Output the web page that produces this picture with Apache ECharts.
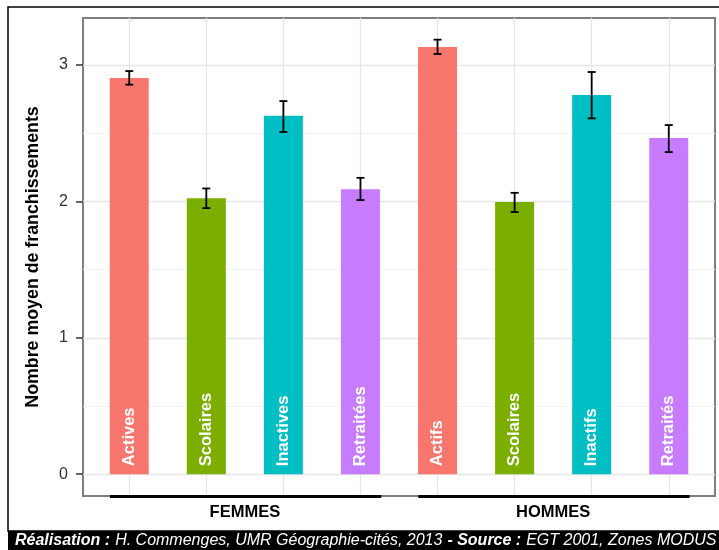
<!DOCTYPE html>
<html>
<head>
<meta charset="utf-8">
<script src="https://cdn.jsdelivr.net/npm/echarts@6/dist/echarts.min.js"></script>
<style>html,body{margin:0;padding:0;background:#fff}#c{width:719px;height:550px}</style>
</head>
<body>
<div id="c"></div>
<script>
// ---- data ----
const categories = ['Actives', 'Scolaires', 'Inactives', 'Retraitées', 'Actifs', 'Scolaires', 'Inactifs', 'Retraités'];
const groups = ['FEMMES', 'HOMMES'];
const groupCenters = [2.5, 6.5];
const groupSpans = [[0.75, 4.27], [4.75, 8.27]];
const means = [2.905, 2.024, 2.628, 2.090, 3.132, 1.995, 2.780, 2.465];
const lower = [2.856, 1.951, 2.509, 2.010, 3.081, 1.922, 2.609, 2.362];
const upper = [2.956, 2.095, 2.736, 2.173, 3.186, 2.063, 2.949, 2.560];
const yTicks = [0, 1, 2, 3];
const yMinor = [0.5, 1.5, 2.5];
const palette = ['#F8766D', '#7CAE00', '#00BFC4', '#C77CFF'];

const FONT = 'Liberation Sans, Arial, sans-serif';
const positions = categories.map((c, i) => i + 1);

const gridLines = [];
yTicks.forEach(v => gridLines.push({ yAxis: v, lineStyle: { color: '#e6e6e6', width: 1.3, type: 'solid' } }));
yMinor.forEach(v => gridLines.push({ yAxis: v, lineStyle: { color: '#f3f3f3', width: 1, type: 'solid' } }));
positions.forEach(v => gridLines.push({ xAxis: v, lineStyle: { color: '#e6e6e6', width: 1.3, type: 'solid' } }));

const groupLines = groupSpans.map(s => [
  { coord: [s[0], -0.16] },
  { coord: [s[1], -0.16] }
]);

const chart = echarts.init(document.getElementById('c'), null, { renderer: 'canvas' });
chart.setOption({
  animation: false,
  backgroundColor: '#fff',
  textStyle: { fontFamily: FONT },
  graphic: [
    { type: 'rect', shape: { x: 8, y: 7, width: 720, height: 524 }, style: { fill: null, stroke: '#000', lineWidth: 1.5 }, z: 0, silent: true },
    { type: 'rect', shape: { x: 8, y: 531, width: 711, height: 19 }, style: { fill: '#000' }, z: 0, silent: true }
  ],
  title: {
    left: 15, top: 530, padding: 0,
    text: '{b|Réalisation :} {i|H. Commenges, UMR Géographie-cités, 2013} {b|- Source :} {i|EGT 2001, Zones MODUS}',
    textStyle: {
      rich: {
        b: { fontFamily: FONT, fontStyle: 'italic', fontWeight: 'bold', fontSize: 16, color: '#fff', lineHeight: 21 },
        i: { fontFamily: FONT, fontStyle: 'italic', fontWeight: 'normal', fontSize: 16, color: '#fff', lineHeight: 21 }
      }
    }
  },
  grid: {
    left: 83, top: 18, right: 4, bottom: 54,
    show: true, borderColor: '#7f7f7f', borderWidth: 2, backgroundColor: 'transparent'
  },
  xAxis: {
    type: 'value', min: 0.4, max: 8.6,
    axisLine: { show: false }, axisTick: { show: false }, splitLine: { show: false },
    axisLabel: {
      customValues: groupCenters,
      formatter: v => groups[groupCenters.indexOf(v)] || '',
      fontFamily: FONT, fontWeight: 'bold', fontSize: 16.5, color: '#000', margin: 8
    }
  },
  yAxis: {
    type: 'value', min: -0.16, max: 3.345,
    name: 'Nombre moyen de franchissements',
    nameLocation: 'middle', nameRotate: 90, nameGap: 41,
    nameTextStyle: { fontFamily: FONT, fontWeight: 'bold', fontSize: 17.8, color: '#000', padding: [0, 0, 0, 0] },
    axisLine: { show: false },
    splitLine: { show: false },
    axisTick: { show: true, customValues: yTicks, length: 7, lineStyle: { color: '#333', width: 1.5 } },
    axisLabel: { customValues: yTicks, fontFamily: FONT, fontSize: 16, color: '#333', margin: 15 }
  },
  series: [
    {
      type: 'line', data: [], z: 1, clip: false, silent: true,
      markLine: {
        z: 1, silent: true, symbol: ['none', 'none'], label: { show: false },
        data: gridLines
      }
    },
    {
      type: 'bar', z: 2, barWidth: 39,
      data: means.map((v, i) => ({ value: [positions[i], v], itemStyle: { color: palette[i % 4] } })),
      label: {
        show: true, position: 'insideBottom', rotate: 90, align: 'left', verticalAlign: 'middle',
        distance: 8, color: '#fff', fontFamily: FONT, fontWeight: 'bold', fontSize: 16.5,
        formatter: p => categories[p.dataIndex]
      }
    },
    {
      type: 'custom', z: 3,
      data: means.map((v, i) => [positions[i], lower[i], upper[i]]),
      renderItem: (params, api) => {
        const lo = api.coord([api.value(0), api.value(1)]);
        const hi = api.coord([api.value(0), api.value(2)]);
        const hw = 4;
        const st = { stroke: '#000', lineWidth: 1.8 };
        return {
          type: 'group',
          children: [
            { type: 'line', shape: { x1: lo[0], y1: lo[1], x2: hi[0], y2: hi[1] }, style: st },
            { type: 'line', shape: { x1: lo[0] - hw, y1: lo[1], x2: lo[0] + hw, y2: lo[1] }, style: st },
            { type: 'line', shape: { x1: hi[0] - hw, y1: hi[1], x2: hi[0] + hw, y2: hi[1] }, style: st }
          ]
        };
      }
    },
    {
      type: 'line', data: [], z: 4, clip: false, silent: true,
      markLine: {
        z: 4, silent: true, symbol: ['none', 'none'], label: { show: false },
        lineStyle: { color: '#000', width: 3, type: 'solid' },
        data: groupLines
      }
    }
  ]
});
</script>
</body>
</html>
